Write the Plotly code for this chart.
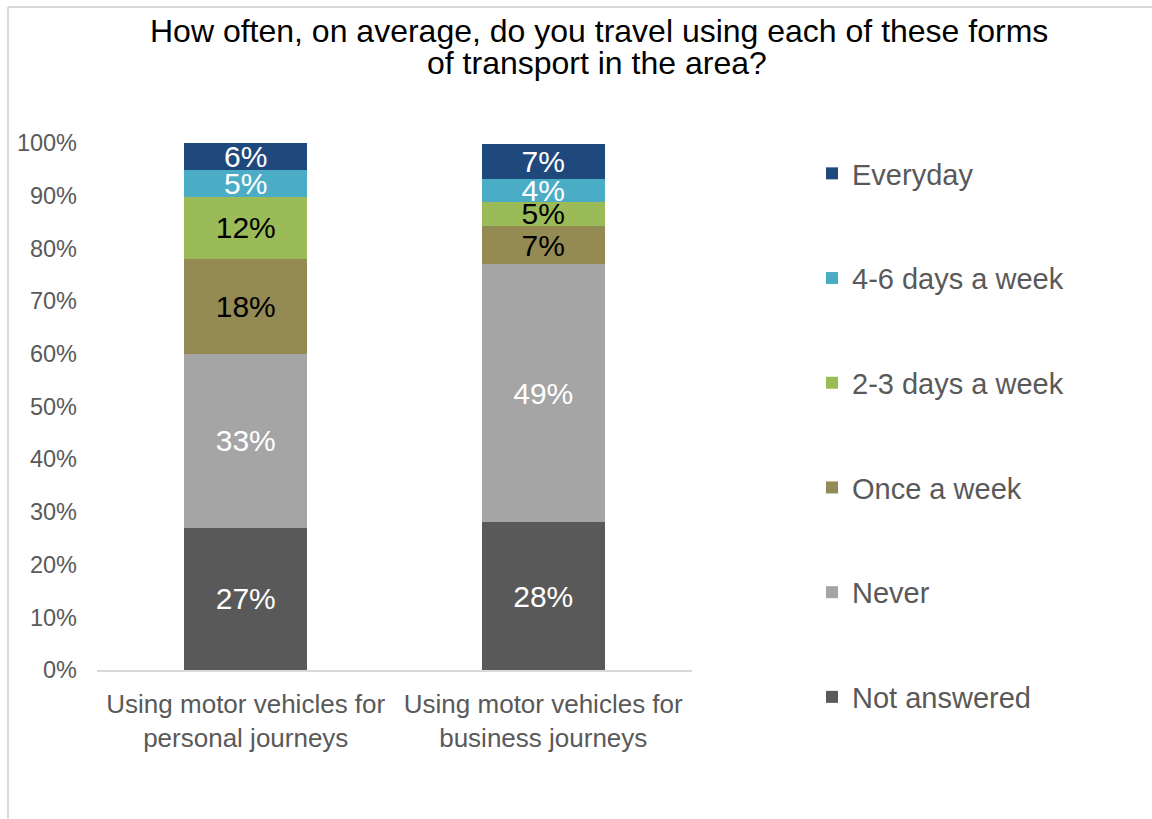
import plotly.graph_objects as go

categories = ["Using motor vehicles for<br>personal journeys",
              "Using motor vehicles for<br>business journeys"]

# bottom -> top stacking order
series_names = ["Not answered", "Never", "Once a week", "2-3 days a week",
                "4-6 days a week", "Everyday"]
not_answered = [27.0, 28.0]
never = [33.0, 49.0]
once_a_week = [18.0, 7.2]
two_three_days = [11.8, 4.7]
four_six_days = [5.1, 4.3]
everyday = [5.1, 6.6]

lbl_not_answered = ["27%", "28%"]
lbl_never = ["33%", "49%"]
lbl_once_a_week = ["18%", "7%"]
lbl_two_three_days = ["12%", "5%"]
lbl_four_six_days = ["5%", "4%"]
lbl_everyday = ["6%", "7%"]

title_lines = ["How often, on average, do you travel using each of these forms",
               "of transport in the area?"]

series_values = [not_answered, never, once_a_week, two_three_days, four_six_days, everyday]
series_labels = [lbl_not_answered, lbl_never, lbl_once_a_week, lbl_two_three_days,
                 lbl_four_six_days, lbl_everyday]
colors = ["#595959", "#A5A5A5", "#948A54", "#9BBB59", "#4BACC6", "#1F497D"]
label_colors = ["white", "white", "black", "black", "white", "white"]

FONT = "Liberation Sans, Arial, sans-serif"

fig = go.Figure()
n = len(series_names)
for i, (name, vals, lbls, col, lc) in enumerate(zip(series_names, series_values, series_labels, colors, label_colors)):
    fig.add_trace(go.Bar(
        x=categories, y=vals, name=name, text=lbls, texttemplate="%{text}",
        textposition="inside", insidetextanchor="middle", constraintext="none",
        textfont=dict(size=30, color=lc, family=FONT),
        marker=dict(color=col, line=dict(width=0)),
        legendgroup=name, legendrank=n - i,
    ))

L, R, T, B = 97, 460, 143, 149
W, H = 1152, 819
pw, ph = W - L - R, H - T - B

def px(x):
    return (x - L) / pw

def py(y):
    return (H - B - y) / ph

fig.update_layout(
    width=W, height=H,
    margin=dict(l=L, r=R, t=T, b=B),
    paper_bgcolor="white", plot_bgcolor="white",
    barmode="stack", bargap=0.586,
    font=dict(family=FONT, color="#595959"),
    showlegend=True,
    legend=dict(
        x=px(812), y=py(148), xanchor="left", yanchor="top",
        traceorder="grouped", tracegroupgap=64, maxheight=800,
        font=dict(size=29, color="#595959", family=FONT),
        bgcolor="rgba(0,0,0,0)",
    ),
    xaxis=dict(
        showline=True, linecolor="#D9D9D9", linewidth=2, ticks="",
        tickfont=dict(size=26, color="#595959"), showgrid=False,
        ticklabelstandoff=10,
    ),
    yaxis=dict(
        range=[0, 100], dtick=10, ticksuffix="%", showgrid=False,
        showline=False, zeroline=False, ticks="",
        tickfont=dict(size=23.5, color="#595959"),
        ticklabelstandoff=19,
    ),
    annotations=[
        dict(text=title_lines[0], x=px(599), y=py(31), xref="paper", yref="paper",
             xanchor="center", yanchor="middle", showarrow=False,
             font=dict(size=32, color="black", family=FONT)),
        dict(text=title_lines[1], x=px(597), y=py(63), xref="paper", yref="paper",
             xanchor="center", yanchor="middle", showarrow=False,
             font=dict(size=32, color="black", family=FONT)),
    ],
    shapes=[
        dict(type="line", xref="paper", yref="paper", x0=px(8), x1=px(8), y0=py(7), y1=py(819),
             line=dict(color="#D9D9D9", width=2)),
        dict(type="line", xref="paper", yref="paper", x0=px(8), x1=px(1152), y0=py(7), y1=py(7),
             line=dict(color="#D9D9D9", width=2)),
    ],
)

fig.write_html("out.html")
